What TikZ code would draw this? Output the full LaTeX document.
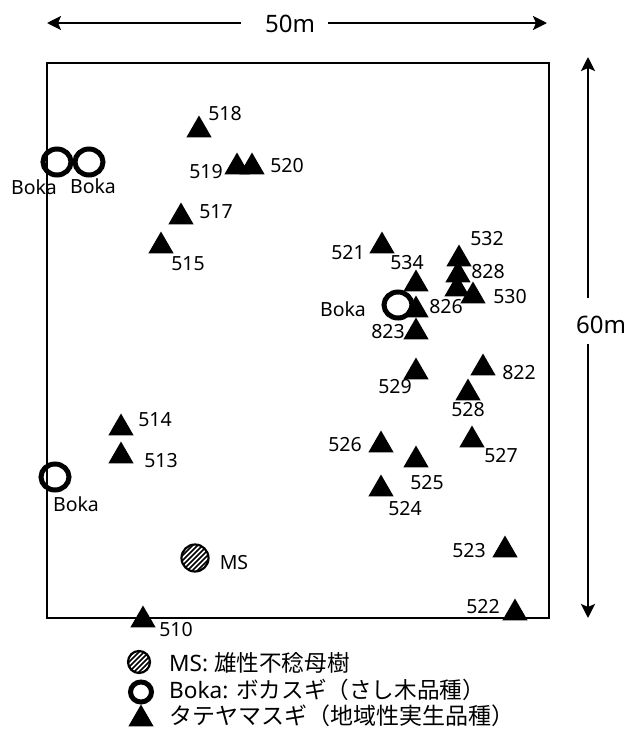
\documentclass[tikz,border=0pt]{standalone}
\usepackage{fontspec}
\setmainfont{Noto Sans}
\newfontfamily\jp{Noto Sans CJK JP}
\usetikzlibrary{shapes.geometric,arrows.meta}
\tikzset{
  x=1pt,y=-1pt,
  tree/.style={regular polygon,regular polygon sides=3,fill=black,draw=none,minimum size=29pt,inner sep=0pt},
  boka/.style={ellipse,draw=black,line width=5pt,minimum width=28pt,minimum height=26pt,inner sep=0pt,fill=none},
  lab/.style={font=\fontsize{19.5}{22}\selectfont,inner sep=0pt,text=black},
  big/.style={font=\fontsize{24}{28}\selectfont,inner sep=0pt,text=black},
  leg/.style={font=\fontsize{22.6}{24}\selectfont,inner sep=0pt,anchor=west,text=black},
  dim/.style={line width=2.4pt,{Stealth[length=14pt,width=14pt,inset=3pt]}-},
  plot/.style={draw=black,line width=2pt}
}
\newcommand{\msmark}[3]{%
  \begin{scope}
    \clip (#1,#2) circle (#3);
    \foreach \d in {-25,-20,...,25}{
      \draw[line width=1.7pt] ([shift={(\d-20,20)}]#1,#2) -- ([shift={(\d+20,-20)}]#1,#2);
    }
  \end{scope}
  \draw[line width=2.2pt] (#1,#2) circle (#3);
}
\begin{document}
\begin{tikzpicture}
\useasboundingbox (0,0) rectangle (627,729);
\node[plot,rectangle,minimum width=502pt,minimum height=555pt,inner sep=0pt,anchor=north west] (plotarea) at (46,62) {};
% dimensions
\node[big] (w) at (290,24) {50m};
\node[big] (h) at (601,325) {60m};
\coordinate (wl) at (47,23);\coordinate (wa) at (241,23);
\coordinate (wr) at (547,23);\coordinate (wb) at (328,23);
\coordinate (ht) at (588,57);\coordinate (ha) at (588,298);
\coordinate (hb) at (588,618);\coordinate (hc) at (588,344);
\draw[dim] (wl) -- (wa);
\draw[dim] (wr) -- (wb);
\draw[dim] (ht) -- (ha);
\draw[dim] (hb) -- (hc);
% trees
\foreach \n/\x/\y in {t518/199/130,t519/237/167,t520/252/167,t517/181/217,t515/161/246,t521/382/246,t534/416/284,t532/459/259,t828/458/275,t8x/457/289,t530/473/296,t826/416/310,t823/416/332,t529/416/372,t822/483/368,t528/468/393,t527/472/440,t526/381/445,t525/416/460,t524/381/489,t523/505/550,t522/515/613,t510/143/620,t514/121/428,t513/121/456}{
  \node[tree] (\n) at (\x,\y) {};
}
% Boka
\foreach \n/\x/\y in {b1/57/162,b2/89/162,b3/398/305,b4/55/477}{
  \node[boka] (\n) at (\x,\y) {};
}
\msmark{195}{558}{13.5pt}
\node[lab] (lms) at (234,563) {MS};
% labels
\foreach \n/\x/\y/\t in {l518/225/114/518,l519/206/172/519,l520/287/166/520,l517/216/212/517,l515/188/264/515,l521/348/253/521,l534/407/263/534,l532/487/239/532,l828/488/272/828,l530/510/297/530,l826/446/307/826,l823/388/332/823,l529/395/387/529,l822/519/373/822,l528/468/410/528,l527/501/456/527,l526/345/445/526,l525/427/483/525,l524/405/509/524,l523/469/551/523,l522/483/607/522,l510/176/630/510,l514/155/420/514,l513/161/461/513}{
  \node[lab] (\n) at (\x,\y) {\t};
}
\foreach \n/\x/\y in {lb1/34/187,lb2/93/186,lb3/343/309,lb4/76/504}{
  \node[lab] (\n) at (\x,\y) {Boka};
}
% legend
\msmark{139}{662}{11pt}
\node[boka,minimum width=21pt,minimum height=20pt] (kb) at (141,692) {};
\node[tree] (kt) at (141,719) {};
\node[leg] (k1) at (169,663) {MS: {\jp 雄性不稔母樹}};
\node[leg] (k2) at (169,690) {Boka: {\jp ボカスギ（さし木品種）}};
\node[leg,font=\fontsize{23}{24}\selectfont] (k3) at (169,715.5) {{\jp タテヤマスギ（地域性実生品種）}};
\end{tikzpicture}
\end{document}
